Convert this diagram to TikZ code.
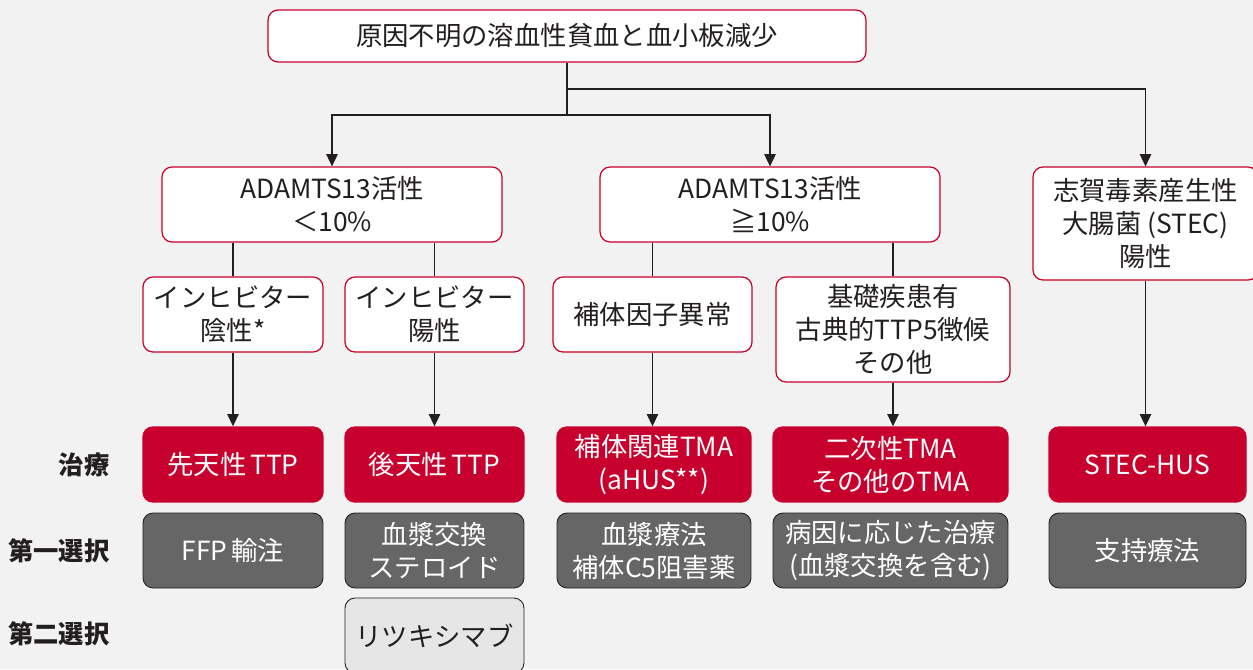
\documentclass[tikz,border=0pt]{standalone}
\usepackage{fontspec}
\setmainfont{Noto Sans CJK JP}
\usetikzlibrary{arrows.meta}
\definecolor{tmaRed}{HTML}{C8002D}
\definecolor{bgGray}{HTML}{F2F2F2}
\definecolor{firstGray}{HTML}{666666}
\definecolor{secondGray}{HTML}{E6E6E6}
\definecolor{inkDark}{HTML}{231F20}

\begin{document}
\begin{tikzpicture}[x=0.02cm, y=-0.02cm, >={Triangle[length=7pt,width=6.5pt]}, line width=0.8pt, draw=inkDark, text=inkDark, finding/.style={rectangle, rounded corners=0.2cm, draw=tmaRed, line width=0.7pt, fill=white, align=center, inner sep=0pt, font=\fontsize{15}{18.8}\selectfont}, therapy/.style={rectangle, rounded corners=0.2cm, draw=tmaRed, fill=tmaRed, text=white, align=center, inner sep=0pt, minimum height=1.5cm, font=\fontsize{15}{18.8}\selectfont}, first line/.style={rectangle, rounded corners=0.2cm, draw=inkDark, line width=0.5pt, fill=firstGray, text=white, align=center, inner sep=0pt, minimum height=1.5cm, font=\fontsize{15}{18.8}\selectfont}, second line/.style={rectangle, rounded corners=0.2cm, draw=inkDark, line width=0.5pt, fill=secondGray, align=center, inner sep=0pt, minimum height=1.5cm, font=\fontsize{15}{18.8}\selectfont}, row label/.style={anchor=east, font=\fontsize{14.4}{18.8}\selectfont\bfseries}]

\fill[bgGray] (0,0) rectangle (1253,669);
\useasboundingbox (0,0) rectangle (1253,669);

\node[finding, minimum width=11.96cm, minimum height=1.04cm] (top) at (567,36) {原因不明の溶血性貧血と血小板減少};

\node[finding, minimum width=6.8cm, minimum height=1.5cm] (adamLow) at (332,204.5) {ADAMTS13活性\\＜10\%};
\node[finding, minimum width=6.8cm, minimum height=1.5cm] (adamHigh) at (770,204.5) {ADAMTS13活性\\≧10\%};
\node[finding, minimum width=4.5cm, minimum height=2.26cm] (stec) at (1145.5,223.5) {志賀毒素産生性\\大腸菌 (STEC)\\陽性};

\node[finding, minimum width=3.6cm, minimum height=1.5cm] (inhNeg) at (233,314.5) {インヒビター\\陰性*};
\node[finding, minimum width=3.58cm, minimum height=1.5cm] (inhPos) at (434.5,314.5) {インヒビター\\陽性};
\node[finding, minimum width=3.98cm, minimum height=1.5cm] (compl) at (652.5,314.5) {補体因子異常};
\node[finding, minimum width=4.68cm, minimum height=2.1cm] (under) at (893,329.5) {基礎疾患有\\古典的TTP5徴候\\その他};

\node[therapy, minimum width=3.6cm] (congTTP) at (233,464.5) {先天性\hspace{0.15em}TTP};
\node[therapy, minimum width=3.58cm] (acqTTP) at (434.5,464.5) {後天性\hspace{0.15em}TTP};
\node[therapy, minimum width=3.88cm] (complTMA) at (654,464.5) {補体関連TMA\\(aHUS**)};
\node[therapy, minimum width=4.7cm] (secTMA) at (890.5,464.5) {二次性TMA\\その他のTMA};
\node[therapy, minimum width=3.94cm] (stecHUS) at (1147.5,464.5) {STEC-HUS};

\node[first line, minimum width=3.6cm] (ffp) at (233,550.5) {FFP\hspace{0.15em}輸注};
\node[first line, minimum width=3.58cm] (plex) at (434.5,550.5) {血漿交換\\ステロイド};
\node[first line, minimum width=3.88cm] (plasma) at (654,550.5) {血漿療法\\補体C5阻害薬};
\node[first line, minimum width=4.7cm] (cause) at (890.5,550.5) {病因に応じた治療\\(血漿交換を含む)};
\node[first line, minimum width=3.94cm] (support) at (1147.5,550.5) {支持療法};

\node[second line, minimum width=3.58cm] (ritux) at (434.5,635.5) {リツキシマブ};

\node[row label] (labTherapy) at (116,465) {治療};
\node[row label] (labFirst) at (116,551) {第一選択};
\node[row label] (labSecond) at (116,634) {第二選択};

\coordinate (splitLow) at (567,115);
\coordinate (splitHigh) at (567,89);

\draw (top.south) -- (splitLow);
\draw[->] (splitLow) -| (adamLow.north);
\draw[->] (splitLow) -| (adamHigh.north);
\draw[->] (splitHigh) -| (stec.north);

\foreach \from/\to in {adamLow/inhNeg, adamLow/inhPos, adamHigh/compl, adamHigh/under}
    \draw (\to.north |- \from.south) -- (\to.north);

\foreach \from/\to in {inhNeg/congTTP, inhPos/acqTTP, compl/complTMA, under/secTMA, stec/stecHUS}
    \draw[->] (\from.south) -- (\from.south |- \to.north);
\end{tikzpicture}
\end{document}
